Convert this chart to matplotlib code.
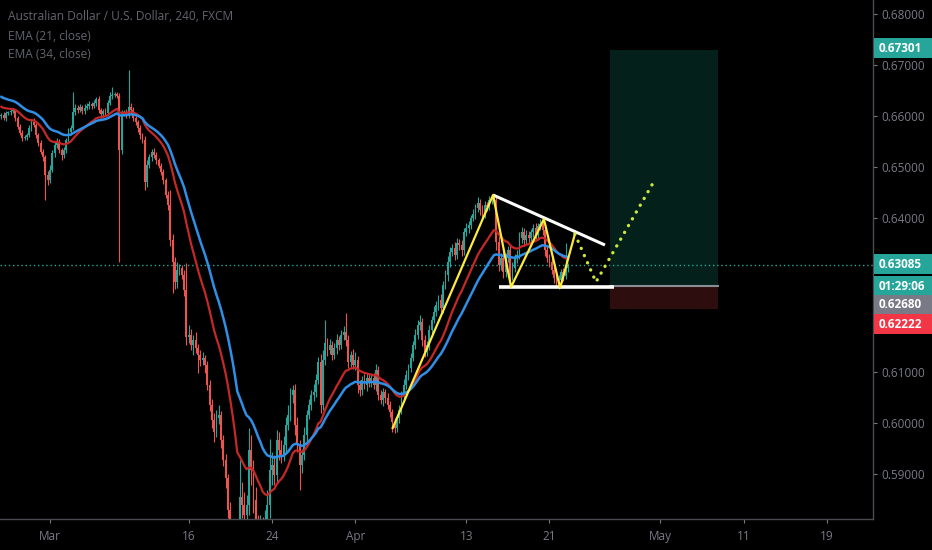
import matplotlib
matplotlib.use("Agg")
import matplotlib.pyplot as plt
from matplotlib.patches import Rectangle
import numpy as np

# AUDUSD 4h closes (bar 0 = Feb 26 midday, bar 21 = Mar 2)
closes = [
    0.6602, 0.6596, 0.6606, 0.6608, 0.6610, 0.6612, 0.6596, 0.6579, 0.6567, 0.6557,
    0.6559, 0.6563, 0.6577, 0.6589, 0.6583, 0.6563, 0.6548, 0.6530, 0.6520, 0.6485,
    0.6475, 0.6495, 0.6528, 0.6544, 0.6550, 0.6534, 0.6524, 0.6534, 0.6553, 0.6569,
    0.6577, 0.6608, 0.6616, 0.6612, 0.6618, 0.6610, 0.6616, 0.6620, 0.6624, 0.6620,
    0.6626, 0.6634, 0.6612, 0.6604, 0.6610, 0.6606, 0.6626, 0.6640, 0.6641, 0.6643,
    0.6640, 0.6534, 0.6606, 0.6608, 0.6602, 0.6618, 0.6612, 0.6596, 0.6589, 0.6577,
    0.6563, 0.6553, 0.6471, 0.6505, 0.6520, 0.6530, 0.6524, 0.6514, 0.6503, 0.6491,
    0.6475, 0.6446, 0.6426, 0.6358, 0.6315, 0.6276, 0.6299, 0.6303, 0.6289, 0.6260,
    0.6168, 0.6172, 0.6152, 0.6162, 0.6146, 0.6133, 0.6123, 0.6127, 0.6113, 0.6074,
    0.6035, 0.6005, 0.5982, 0.6009, 0.6015, 0.5966, 0.5927, 0.5892, 0.5829, 0.5771,
    0.5720, 0.5640, 0.5560, 0.5855, 0.5839, 0.5820, 0.5839, 0.5947, 0.5908, 0.5849,
    0.5800, 0.5771, 0.5790, 0.5751, 0.5810, 0.5839, 0.5908, 0.5917, 0.5898, 0.5966,
    0.5947, 0.5937, 0.5957, 0.5996, 0.6015, 0.6054, 0.6064, 0.5996, 0.5957, 0.5917,
    0.5937, 0.5976, 0.6015, 0.6035, 0.6054, 0.6060, 0.6084, 0.6119, 0.6035, 0.6123,
    0.6156, 0.6142, 0.6152, 0.6133, 0.6146, 0.6162, 0.6152, 0.6172, 0.6178, 0.6162,
    0.6119, 0.6133, 0.6113, 0.6123, 0.6074, 0.6064, 0.6084, 0.6074, 0.6088, 0.6080,
    0.6088, 0.6074, 0.6103, 0.6054, 0.6045, 0.6060, 0.6049, 0.6035, 0.6021, 0.6002,
    0.5990, 0.6009, 0.6025, 0.6054, 0.6074, 0.6093, 0.6107, 0.6127, 0.6152, 0.6172,
    0.6191, 0.6197, 0.6162, 0.6139, 0.6152, 0.6182, 0.6201, 0.6217, 0.6231, 0.6240,
    0.6225, 0.6270, 0.6289, 0.6315, 0.6334, 0.6342, 0.6328, 0.6352, 0.6348, 0.6338,
    0.6373, 0.6381, 0.6387, 0.6401, 0.6409, 0.6420, 0.6430, 0.6416, 0.6407, 0.6426,
    0.6422, 0.6436, 0.6440, 0.6436, 0.6354, 0.6309, 0.6323, 0.6295, 0.6323, 0.6338,
    0.6289, 0.6303, 0.6323, 0.6328, 0.6362, 0.6373, 0.6358, 0.6368, 0.6362, 0.6373,
    0.6381, 0.6368, 0.6385, 0.6389, 0.6377, 0.6338, 0.6323, 0.6315, 0.6299, 0.6283,
    0.6274, 0.6279, 0.6295, 0.6287, 0.6303, 0.63085,
]
first_open = 0.6600

# wick lengths above / below the body, in pips
wick_up = [
    4, 6, 5, 3, 4, 5, 3, 4, 5, 6,
    5, 4, 6, 5, 7, 3, 4, 5, 6, 5,
    8, 10, 6, 5, 7, 6, 4, 6, 5, 7,
    6, 39, 8, 5, 6, 4, 7, 5, 6, 4,
    5, 4, 6, 5, 4, 6, 5, 8, 16, 5,
    4, 6, 7, 5, 6, 72, 8, 6, 5, 4,
    6, 5, 8, 10, 6, 5, 7, 6, 4, 5,
    6, 5, 7, 29, 12, 10, 15, 8, 6, 10,
    53, 20, 12, 10, 15, 8, 10, 12, 6, 8,
    10, 12, 15, 16, 20, 8, 10, 12, 8, 15,
    20, 25, 30, 72, 30, 25, 20, 43, 30, 20,
    25, 20, 30, 25, 20, 30, 60, 25, 20, 20,
    15, 20, 18, 15, 20, 15, 10, 12, 15, 10,
    12, 15, 10, 12, 10, 15, 12, 10, 15, 20,
    45, 10, 12, 8, 10, 12, 8, 10, 12, 37,
    10, 8, 12, 15, 8, 10, 8, 12, 10, 8,
    8, 10, 12, 8, 10, 8, 6, 10, 8, 6,
    8, 6, 10, 8, 12, 10, 8, 10, 8, 12,
    10, 14, 8, 10, 8, 10, 8, 12, 8, 10,
    12, 8, 10, 12, 10, 8, 12, 10, 8, 10,
    8, 10, 8, 6, 10, 8, 12, 8, 10, 8,
    6, 8, 6, 6, 10, 12, 10, 12, 10, 8,
    10, 12, 8, 10, 12, 10, 8, 10, 8, 6,
    8, 10, 6, 10, 8, 12, 10, 8, 10, 6,
    8, 10, 6, 8, 49, 5,
]
wick_dn = [
    5, 4, 6, 4, 5, 3, 6, 5, 4, 6,
    4, 5, 3, 6, 4, 5, 6, 4, 7, 49,
    10, 6, 5, 8, 6, 7, 9, 5, 6, 5,
    5, 4, 6, 5, 4, 6, 5, 4, 6, 5,
    4, 6, 5, 7, 5, 6, 4, 5, 6, 4,
    5, 219, 8, 6, 5, 6, 7, 5, 6, 8,
    7, 6, 15, 10, 6, 8, 6, 7, 5, 6,
    8, 6, 10, 12, 61, 15, 12, 10, 8, 12,
    15, 12, 10, 20, 10, 36, 12, 10, 15, 10,
    12, 15, 20, 10, 12, 15, 12, 20, 15, 20,
    30, 40, 54, 30, 25, 30, 25, 20, 30, 25,
    30, 25, 20, 30, 25, 20, 25, 30, 20, 15,
    20, 15, 12, 15, 10, 12, 15, 20, 15, 49,
    15, 10, 12, 8, 10, 12, 10, 8, 15, 10,
    10, 12, 8, 10, 8, 12, 10, 8, 10, 12,
    12, 10, 8, 10, 15, 12, 10, 8, 12, 10,
    10, 8, 12, 10, 8, 12, 10, 8, 10, 20,
    10, 8, 10, 8, 10, 8, 10, 8, 6, 8,
    8, 10, 12, 10, 8, 10, 8, 6, 8, 10,
    8, 10, 8, 12, 10, 8, 10, 8, 10, 12,
    10, 8, 10, 8, 6, 10, 8, 10, 8, 6,
    8, 6, 8, 8, 15, 12, 10, 12, 10, 8,
    23, 10, 8, 10, 8, 10, 12, 8, 10, 8,
    10, 8, 10, 8, 10, 12, 8, 10, 8, 10,
    10, 12, 8, 10, 6, 8,
]

# EMA levels at the first visible bar (seeded from the chart)
ema21_start = 0.6620
ema34_start = 0.6640

# x axis ticks: label and bar index
tick_labels = ["Mar", "16", "24", "Apr", "13", "21", "May", "11", "19"]
tick_bars = [21, 81, 117, 153, 201, 237, 285, 321, 357]
yticks = [0.59, 0.60, 0.61, 0.62, 0.63, 0.64, 0.65, 0.66, 0.67, 0.68]
hidden_yticks = [0.62, 0.63]   # covered by the price labels on the scale

# drawings (bar index, price)
wedge_top = ([212.6, 261.0], [0.64458, 0.63479])
wedge_bottom = ([215.2, 264.9], [0.62658, 0.62658])
yellow_x = [169.2, 212.6, 220.4, 234.6, 241.6, 248.0]
yellow_y = [0.59898, 0.64458, 0.62658, 0.63988, 0.62638, 0.63695]
proj_x = [248.0, 257.1, 281.8]
proj_y = [0.63695, 0.62755, 0.64693]

# long position tool
pos_left, pos_right = 263.2, 309.9
target, entry, stop = 0.67301, 0.62680, 0.62222
last_price = 0.63085

GREEN = "#26a69a"
RED = "#ef5350"
TXT = "#787b86"

n = len(closes)
closes = np.array(closes)
opens = np.concatenate([[first_open], closes[:-1]])
highs = np.maximum(opens, closes) + np.array(wick_up[:n]) * 1e-4
lows = np.minimum(opens, closes) - np.array(wick_dn[:n]) * 1e-4
xs = np.arange(n)

def ema(vals, start, length):
    a = 2.0 / (length + 1)
    out = []
    e = start
    for v in vals:
        e = e + a * (v - e)
        out.append(e)
    return np.array(out)

ema21 = ema(closes, ema21_start, 21)
ema34 = ema(closes, ema34_start, 34)

fig = plt.figure(figsize=(9.32, 5.5), dpi=100, facecolor="black")
ax = fig.add_axes([0, 1 - 519 / 550, 873 / 932, 519 / 550], facecolor="black")

# position box
ax.add_patch(Rectangle((pos_left, entry), pos_right - pos_left, target - entry,
                       facecolor="#04201b", edgecolor="none", zorder=1))
ax.add_patch(Rectangle((pos_left, stop), pos_right - pos_left, entry - stop,
                       facecolor="#2e0d0f", edgecolor="none", zorder=1))
ax.plot([pos_left, pos_right], [entry, entry], color="#8a8d94", lw=1.5, zorder=2)

# candles
up = closes >= opens
cols = np.where(up, GREEN, RED)
ax.vlines(xs, lows, highs, colors=cols, lw=0.8, zorder=3)
body = np.maximum(np.abs(closes - opens), 0.00008)
ax.bar(xs, body, bottom=np.minimum(opens, closes), width=0.78, color=cols,
       linewidth=0, zorder=3)

# EMAs
ax.plot(xs, ema21, color="#c62828", lw=1.6, zorder=4)
ax.plot(xs, ema34, color="#2f8fe6", lw=1.8, zorder=4)

# last price line
ax.axhline(last_price, color=GREEN, lw=1, ls=(0, (1, 2)), zorder=2)

# pattern drawings
ax.plot(*wedge_top, color="white", lw=2.2, zorder=5, solid_capstyle="butt")
ax.plot(*wedge_bottom, color="white", lw=2.6, zorder=5, solid_capstyle="butt")
ax.plot(yellow_x, yellow_y, color="#ffeb3b", lw=1.6, zorder=5)
ax.plot(proj_x, proj_y, color="#cde83a", lw=2.4, ls=(0, (0.05, 2.3)),
        dash_capstyle="round", zorder=5)

ax.set_xlim(-0.6, 376.9)
ax.set_ylim(0.58117, 0.68274)

ax.yaxis.tick_right()
ax.set_yticks(yticks)
ax.set_yticklabels(["" if v in hidden_yticks else "%.5f" % v for v in yticks])
ax.set_xticks(tick_bars)
ax.set_xticklabels(tick_labels)
ax.tick_params(axis="both", colors=TXT, labelsize=8.5, length=3, width=0.8)
ax.tick_params(axis="y", pad=3)
ax.tick_params(axis="x", pad=5)
for lab in ax.get_xticklabels() + ax.get_yticklabels():
    lab.set_family("Open Sans")
for s in ["top", "left"]:
    ax.spines[s].set_visible(False)
for s in ["right", "bottom"]:
    ax.spines[s].set_color("#4a4c52")
    ax.spines[s].set_linewidth(1)

# header texts
head_col = "#62656d"
fig.text(8 / 932, 1 - 17 / 550, "Australian Dollar / U.S. Dollar, 240, FXCM",
         color=head_col, fontsize=8.6, family="Open Sans", va="center")
fig.text(8 / 932, 1 - 36 / 550, "EMA (21, close)", color=head_col,
         fontsize=8.6, family="Open Sans", va="center")
fig.text(8 / 932, 1 - 54 / 550, "EMA (34, close)", color=head_col,
         fontsize=8.6, family="Open Sans", va="center")

# price scale labels
labels = [
    ("0.67301", 48, GREEN),
    ("0.63085", 264, GREEN),
    ("01:29:06", 286, GREEN),
    ("0.62680", 305, "#787b86"),
    ("0.62222", 324, "#f23645"),
]
for txt, yc, col in labels:
    fig.add_artist(Rectangle((874 / 932, 1 - (yc + 10) / 550), 58 / 932, 20 / 550,
                             transform=fig.transFigure, facecolor=col,
                             edgecolor="none", zorder=10))
    fig.text(879 / 932, 1 - yc / 550, txt, color="white", fontsize=8.5,
             fontweight="bold", family="Open Sans", va="center", zorder=11)

fig.savefig("out.png", dpi=100, facecolor="black")
